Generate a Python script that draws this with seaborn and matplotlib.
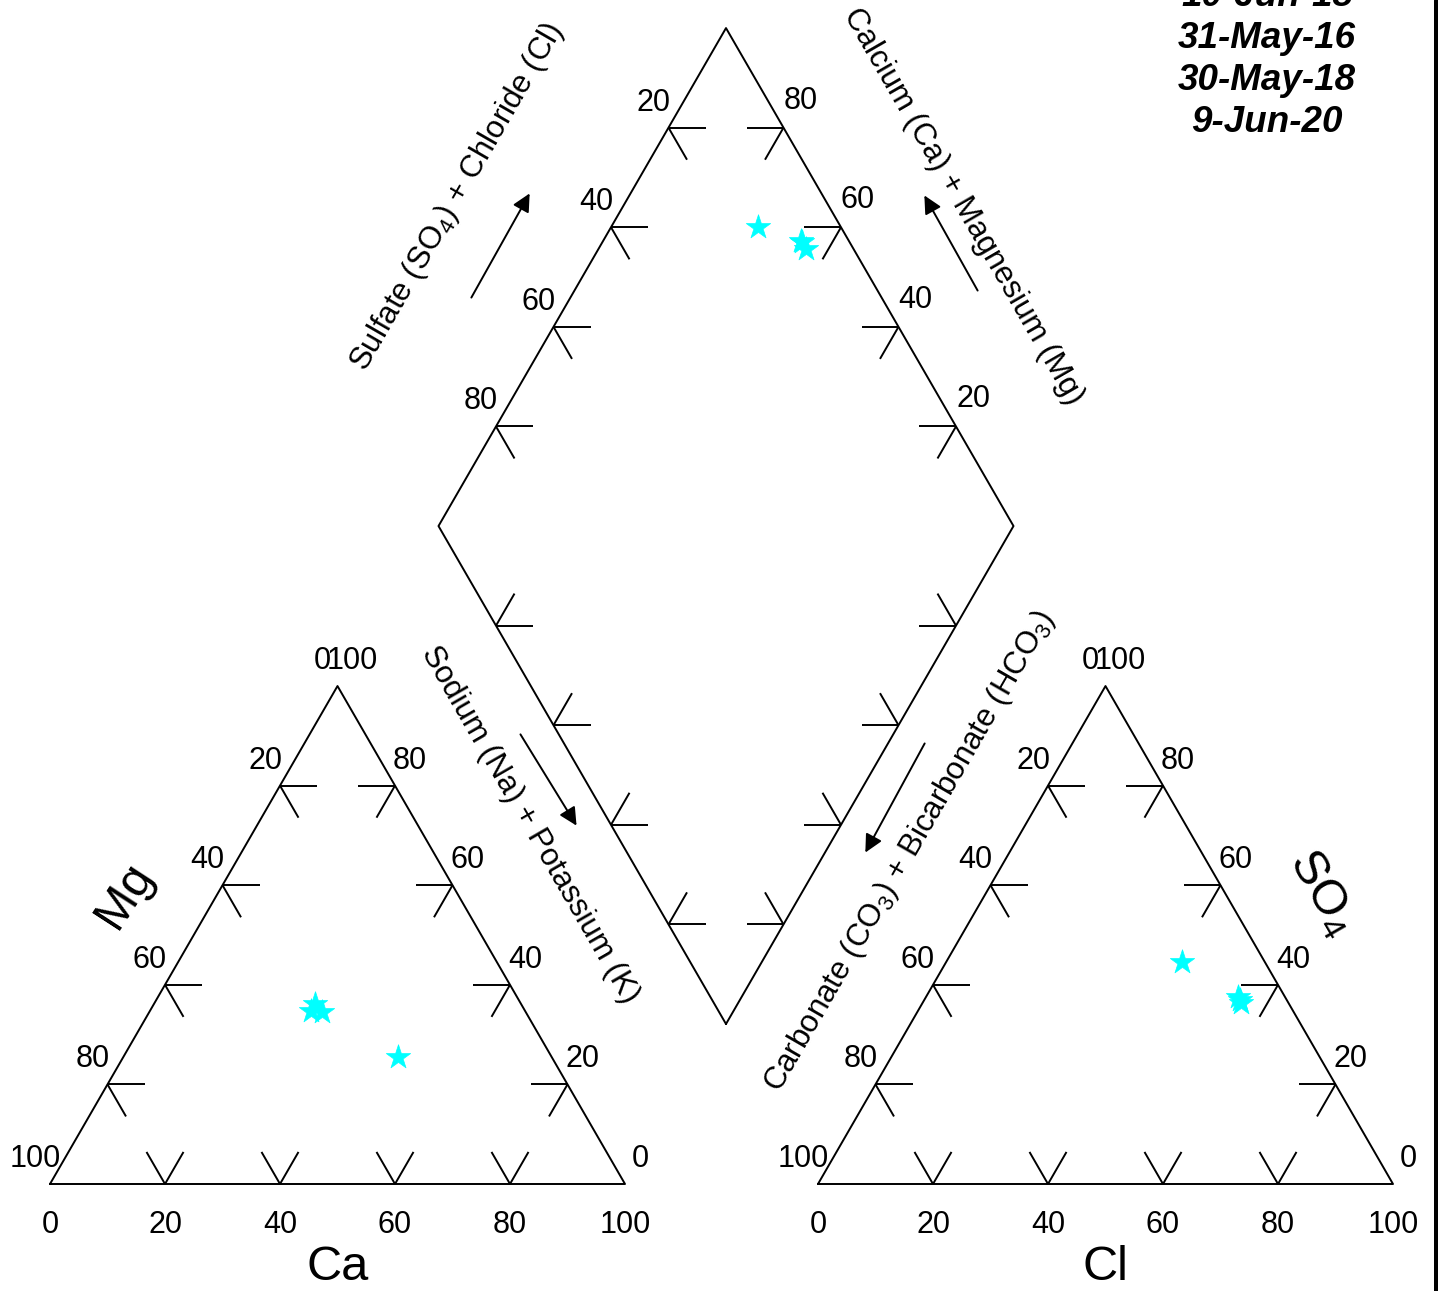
import numpy as np
import pandas as pd
import matplotlib.pyplot as plt
import seaborn as sns

# -----------------------------
# Sample data (percent of meq/L)
# -----------------------------
dates = ["10-Jun-15", "31-May-16", "30-May-18", "9-Jun-20"]
ca = [47.8, 28.0, 28.0, 30.0]
mg = [26.7, 35.9, 37.3, 35.5]
na_k = [25.5, 36.1, 34.7, 34.5]
cl = [41.0, 54.2, 54.9, 55.4]
so4 = [44.5, 37.6, 36.9, 36.3]
hco3 = [14.5, 8.2, 8.2, 8.3]

tick_values = [20, 40, 60, 80]
left_labels = ["20", "40", "60", "80"]
right_labels = ["80", "60", "40", "20"]

# -----------------------------
# Layout (figure pixels)
# -----------------------------
W, HGT = 1438, 1291
SIDE = 575.0
TH = SIDE * np.sqrt(3) / 2
BASE_Y = 1184.0
CAT_X0 = 50.0
AN_X0 = 818.0
DIA_BX, DIA_BY = 726.0, 1024.0
TICK = 37.0
LW = 1.4

sns.set_theme(style="white")
plt.rcParams["font.family"] = ["Liberation Sans", "DejaVu Sans"]
plt.rcParams["text.color"] = "black"
plt.rcParams["mathtext.fontset"] = "custom"
plt.rcParams["mathtext.rm"] = "Liberation Sans"
plt.rcParams["mathtext.it"] = "Liberation Sans:italic"
plt.rcParams["mathtext.bf"] = "Liberation Sans:bold"

fig = plt.figure(figsize=(W / 100, HGT / 100), dpi=100)
ax = fig.add_axes([0, 0, 1, 1])

R = np.array([1.0, 0.0])
L = np.array([-1.0, 0.0])
DR = np.array([0.5, np.sqrt(3) / 2])
DL = np.array([-0.5, np.sqrt(3) / 2])
UR = np.array([0.5, -np.sqrt(3) / 2])
UL = np.array([-0.5, -np.sqrt(3) / 2])


def seg(p, q):
    ax.plot([p[0], q[0]], [p[1], q[1]], color="black", lw=LW, solid_capstyle="butt")


def edge_ticks(a, b, dirs, labels=None, off=(0, 0)):
    a, b = np.array(a), np.array(b)
    for i, v in enumerate(tick_values):
        p = a + (b - a) * v / 100
        for d in dirs:
            seg(p, p + TICK * d)
        if labels is not None:
            ax.text(p[0] + off[0], p[1] + off[1], labels[i], ha="center", va="center", fontsize=22)


def tri_xy(x0, right, top):
    right, top = np.asarray(right), np.asarray(top)
    return x0 + SIDE * (right + top / 2) / 100, BASE_Y - TH * top / 100


def draw_triangle(x0):
    bl = np.array([x0, BASE_Y])
    br = np.array([x0 + SIDE, BASE_Y])
    ap = np.array([x0 + SIDE / 2, BASE_Y - TH])
    ax.plot([bl[0], br[0], ap[0], bl[0]], [bl[1], br[1], ap[1], bl[1]], color="black", lw=LW)
    edge_ticks(bl, br, [UL, UR], [str(v) for v in tick_values], (0, 41))
    edge_ticks(ap, bl, [R, DR], left_labels, (-15, -25))
    edge_ticks(br, ap, [L, DL], [str(v) for v in tick_values], (15, -25))
    # corner labels
    ax.text(bl[0], BASE_Y + 41, "0", ha="center", va="center", fontsize=22)
    ax.text(br[0], BASE_Y + 41, "100", ha="center", va="center", fontsize=22)
    ax.text(bl[0] - 15, bl[1] - 25, "100", ha="center", va="center", fontsize=22)
    ax.text(br[0] + 15, br[1] - 25, "0", ha="center", va="center", fontsize=22)
    ax.text(ap[0] - 15, ap[1] - 25, "0", ha="center", va="center", fontsize=22)
    ax.text(ap[0] + 15, ap[1] - 25, "100", ha="center", va="center", fontsize=22)


draw_triangle(CAT_X0)
draw_triangle(AN_X0)

# -----------------------------
# Diamond
# -----------------------------
bot = np.array([DIA_BX, DIA_BY])
lft = bot + np.array([-SIDE / 2, -TH])
rgt = bot + np.array([SIDE / 2, -TH])
top = bot + np.array([0, -2 * TH])
ax.plot([bot[0], lft[0], top[0], rgt[0], bot[0]], [bot[1], lft[1], top[1], rgt[1], bot[1]],
        color="black", lw=LW)
edge_ticks(top, lft, [R, DR], left_labels, (-15, -25))
edge_ticks(top, rgt, [L, DL], right_labels, (17, -27))
edge_ticks(lft, bot, [R, UR])
edge_ticks(rgt, bot, [L, UL])

# -----------------------------
# Sample points
# -----------------------------
cx, cy = tri_xy(CAT_X0, ca, na_k)
axx, ayy = tri_xy(AN_X0, cl, so4)
a = 100 - np.array(na_k)   # Ca + Mg
b = 100 - np.array(hco3)   # SO4 + Cl
dx = DIA_BX + SIDE / 2 * (b - a) / 100
dy = DIA_BY - TH * (a + b) / 100

pts = pd.DataFrame({
    "x": np.concatenate([cx, axx, dx]),
    "y": np.concatenate([cy, ayy, dy]),
    "date": dates * 3,
})
sns.scatterplot(data=pts, x="x", y="y", marker="*", s=340, color="#00FFFF",
                edgecolor="#00FFFF", linewidth=0.5, ax=ax, zorder=5, legend=False)
ax.set_xlim(0, W)
ax.set_ylim(HGT, 0)
ax.axis("off")

# -----------------------------
# Axis titles
# -----------------------------
ax.text(338, 1268, "Ca", ha="center", va="center", fontsize=35)
ax.text(1105, 1268, "Cl", ha="center", va="center", fontsize=35)
ax.text(125, 895, "Mg", ha="center", va="center", fontsize=35, rotation=57, rotation_mode="anchor")
ax.text(1322, 893, "SO$_4$", ha="center", va="center", fontsize=35, rotation=-60, rotation_mode="anchor")

ax.text(457, 197, "Sulfate (SO$_4$) + Chloride (Cl)", ha="center", va="center", fontsize=22.5,
        rotation=60, rotation_mode="anchor")
ax.text(963, 206, "Calcium (Ca) + Magnesium (Mg)", ha="center", va="center", fontsize=22.5,
        rotation=-60, rotation_mode="anchor")
ax.text(530, 825, "Sodium (Na) + Potassium (K)", ha="center", va="center", fontsize=22.5,
        rotation=-60, rotation_mode="anchor")
ax.text(910, 851, "Carbonate (CO$_3$) + Bicarbonate (HCO$_3$)", ha="center", va="center", fontsize=22.5,
        rotation=60, rotation_mode="anchor")

arrow = dict(arrowstyle="-|>,head_length=0.9,head_width=0.45", color="black", lw=1.4)
ax.annotate("", xy=(531, 191), xytext=(470, 300), arrowprops=arrow)
ax.annotate("", xy=(923, 193), xytext=(979, 293), arrowprops=arrow)
ax.annotate("", xy=(578, 828), xytext=(519, 732), arrowprops=arrow)
ax.annotate("", xy=(864, 855), xytext=(926, 741), arrowprops=arrow)

# -----------------------------
# Sample dates
# -----------------------------
for i, d in enumerate(dates):
    ax.text(1267, 6 + 42 * i, d, ha="center", va="baseline", fontsize=26.5,
            fontweight="bold", fontstyle="italic")

ax.axvline(1435.5, color="black", lw=3.6)

fig.savefig("out.png", dpi=100)
